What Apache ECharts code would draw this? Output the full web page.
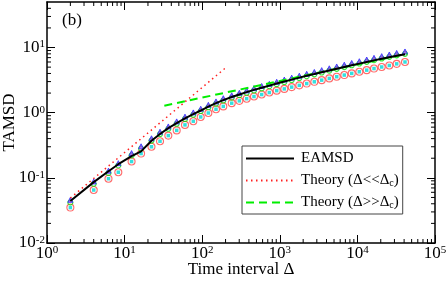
<!DOCTYPE html>
<html><head><meta charset="utf-8">
<script src="https://cdn.jsdelivr.net/npm/echarts@6/dist/echarts.min.js"></script>
<style>html,body{margin:0;padding:0;background:#fff}#c{width:447px;height:283px}</style>
</head><body><div id="c"></div>
<script>
// ---- data ----
const deltas = [2, 4, 6.2, 8.3, 12.3, 16.3, 22.2, 28.6, 36.6, 46.9, 60, 76.8, 95.7, 120, 150.6, 187, 240, 301, 374, 465,
  584, 733, 912, 1143, 1423, 1784, 2221, 2785, 3467, 4345, 5411, 6778, 8448, 10590, 13180, 16370, 20560, 25780, 32080, 41050];
const eamsd = [0.044, 0.086, 0.126, 0.162, 0.215, 0.255, 0.37, 0.47, 0.58, 0.69, 0.82, 0.95, 1.08, 1.24, 1.40, 1.56, 1.74, 1.90, 2.07, 2.24,
  2.42, 2.60, 2.80, 3.02, 3.22, 3.45, 3.68, 3.92, 4.17, 4.44, 4.72, 5.02, 5.33, 5.66, 6.0, 6.35, 6.72, 7.1, 7.48, 7.9];
const tamsdUpper = [0.046, 0.088, 0.129, 0.168, 0.240, 0.305, 0.405, 0.51, 0.615, 0.735, 0.87, 1.01, 1.15, 1.32, 1.49, 1.67, 1.85, 2.02, 2.2, 2.38,
  2.57, 2.77, 2.98, 3.22, 3.45, 3.7, 3.95, 4.22, 4.5, 4.8, 5.12, 5.45, 5.8, 6.17, 6.55, 6.95, 7.38, 7.82, 8.25, 8.7];
const tamsdMiddle = [0.042, 0.081, 0.119, 0.155, 0.221, 0.281, 0.373, 0.469, 0.566, 0.676, 0.80, 0.93, 1.06, 1.21, 1.37, 1.54, 1.70, 1.86, 2.02, 2.19,
  2.36, 2.55, 2.74, 2.96, 3.17, 3.40, 3.63, 3.88, 4.14, 4.42, 4.71, 5.01, 5.34, 5.68, 6.03, 6.39, 6.79, 7.19, 7.59, 8.0];
const tamsdLower = [0.035, 0.065, 0.097, 0.122, 0.178, 0.236, 0.30, 0.365, 0.445, 0.535, 0.65, 0.74, 0.86, 0.99, 1.13, 1.25, 1.40, 1.52, 1.64, 1.77,
  1.90, 2.04, 2.18, 2.32, 2.47, 2.63, 2.80, 2.98, 3.16, 3.36, 3.57, 3.78, 4.01, 4.25, 4.50, 4.76, 5.03, 5.31, 5.62, 6.0];
const shortTheoryX = [2, 205];
const shortTheoryY = [0.049, 5.0];
const longTheoryX = [32.5, 43000];
const longTheoryY = [1.28, 8.0];
const xMinorTicks = [2,3,4,5,6,7,8,9, 20,30,40,50,60,70,80,90, 200,300,400,500,600,700,800,900,
  2000,3000,4000,5000,6000,7000,8000,9000, 20000,30000,40000,50000,60000,70000,80000,90000];
const yMinorTicks = [0.02,0.03,0.04,0.05,0.06,0.07,0.08,0.09, 0.2,0.3,0.4,0.5,0.6,0.7,0.8,0.9,
  2,3,4,5,6,7,8,9, 20,30,40];
const legendNames = {
  'EAMSD': 'EAMSD',
  'short': 'Theory (\u0394<<\u0394{sub|c})',
  'long': 'Theory (\u0394>>\u0394{sub|c})'
};

const FONT = '"Liberation Serif", "Times New Roman", serif';
const pair = (xs, ys) => xs.map((x, i) => [x, ys[i]]);

function powLabel(v) {
  const e = Math.log10(v), r = Math.round(e);
  if (Math.abs(e - r) > 1e-6) return '';
  return '{a|10}{b|' + r + '}';
}
const richLabel = {
  a: {fontFamily: FONT, fontSize: 17, lineHeight: 17, color: '#000', padding: [7, 0, 7, 0]},
  b: {fontFamily: FONT, fontSize: 11, lineHeight: 11, color: '#000', verticalAlign: 'top'}
};

function minorXTick(params, api) {
  const cs = params.coordSys;
  const x = api.coord([api.value(0), 1])[0];
  const yb = cs.y + cs.height, yt = cs.y;
  return {type: 'group', children: [
    {type: 'line', shape: {x1: x, y1: yb, x2: x, y2: yb - 4}, style: {stroke: '#000', lineWidth: 1}},
    {type: 'line', shape: {x1: x, y1: yt, x2: x, y2: yt + 4}, style: {stroke: '#000', lineWidth: 1}}
  ]};
}
function minorYTick(params, api) {
  const cs = params.coordSys;
  const y = api.coord([10, api.value(1)])[1];
  const xl = cs.x, xr = cs.x + cs.width;
  return {type: 'group', children: [
    {type: 'line', shape: {x1: xl, y1: y, x2: xl + 4, y2: y}, style: {stroke: '#000', lineWidth: 1}},
    {type: 'line', shape: {x1: xr, y1: y, x2: xr - 4, y2: y}, style: {stroke: '#000', lineWidth: 1}}
  ]};
}

const axisCommon = {
  type: 'log', logBase: 10,
  axisLine: {show: true, onZero: false, lineStyle: {color: '#000', width: 1.5}},
  axisTick: {show: true, inside: true, length: 8, lineStyle: {color: '#000', width: 1}},
  splitLine: {show: false},
  minorTick: {show: false}
};

const chart = echarts.init(document.getElementById('c'), null, {renderer: 'canvas'});
chart.setOption({
  animation: false,
  backgroundColor: '#fff',
  grid: {left: 47, right: 12, top: 2, bottom: 40, containLabel: false, outerBoundsMode: 'none'},
  xAxis: [
    Object.assign({}, axisCommon, {
      position: 'bottom', min: 1, max: 100000,
      name: 'Time interval \u0394', nameLocation: 'middle', nameGap: 18, nameMoveOverlap: false,
      nameTextStyle: {fontFamily: FONT, fontSize: 17, color: '#000'},
      axisLabel: {show: true, margin: 2, formatter: powLabel, rich: richLabel, showMinLabel: true, showMaxLabel: true}
    }),
    Object.assign({}, axisCommon, {position: 'top', min: 1, max: 100000, axisLabel: {show: false}})
  ],
  yAxis: [
    Object.assign({}, axisCommon, {
      position: 'left', min: 0.01, max: 50,
      name: 'TAMSD', nameLocation: 'middle', nameGap: 29, nameRotate: 90, nameMoveOverlap: false,
      nameTextStyle: {fontFamily: FONT, fontSize: 17, color: '#000'},
      axisLabel: {show: true, margin: 2, formatter: powLabel, rich: richLabel, showMaxLabel: false}
    }),
    Object.assign({}, axisCommon, {position: 'right', min: 0.01, max: 50, axisLabel: {show: false}})
  ],
  graphic: [{
    type: 'text', left: 62, top: 12,
    style: {text: '(b)', fontFamily: FONT, fontSize: 17, fill: '#000'}
  }],
  legend: {
    data: ['EAMSD', 'short', 'long'],
    orient: 'vertical', left: 242, top: 146,
    backgroundColor: '#fff', borderColor: '#444', borderWidth: 1,
    padding: [5, 4, 4, 3],
    itemWidth: 48, itemHeight: 14, itemGap: 6,
    itemStyle: {opacity: 0},
    formatter: n => legendNames[n],
    textStyle: {
      fontFamily: FONT, fontSize: 15, color: '#000', padding: [0, 0, 0, 2],
      rich: {sub: {fontFamily: FONT, fontSize: 10, lineHeight: 10, color: '#000', verticalAlign: 'bottom', padding: [6, 0, 0, 0]}}
    }
  },
  series: [
    {type: 'custom', name: 'xminor', coordinateSystem: 'cartesian2d', renderItem: minorXTick,
     data: xMinorTicks.map(v => [v, 1]), silent: true, clip: false, z: 5},
    {type: 'custom', name: 'yminor', coordinateSystem: 'cartesian2d', renderItem: minorYTick,
     data: yMinorTicks.map(v => [10, v]), silent: true, clip: false, z: 5},
    {type: 'scatter', name: 'lowerRed', data: pair(deltas, tamsdLower), symbol: 'circle', symbolSize: 7,
     itemStyle: {color: 'rgba(0,0,0,0)', borderColor: '#ff4545', borderWidth: 1.1}, z: 2},
    {type: 'scatter', name: 'lowerCyan', data: pair(deltas, tamsdLower), symbol: 'rect', symbolSize: 3.5,
     itemStyle: {color: '#00d8d8'}, z: 2},
    {type: 'scatter', name: 'midGreen', data: pair(deltas, tamsdMiddle), symbol: 'circle', symbolSize: 5,
     itemStyle: {color: 'rgba(0,0,0,0)', borderColor: '#00e000', borderWidth: 1.1}, z: 2},
    {type: 'scatter', name: 'upperTri', data: pair(deltas, tamsdUpper), symbol: 'triangle', symbolSize: 5,
     itemStyle: {color: '#9a4ae8', borderColor: '#2a2aff', borderWidth: 1}, z: 2},
    {type: 'line', name: 'short', data: pair(shortTheoryX, shortTheoryY), symbol: 'none',
     itemStyle: {color: '#ff2020'},
     lineStyle: {color: '#ff2020', width: 1.5, type: [1.5, 3.5]}, z: 3},
    {type: 'line', name: 'long', data: pair(longTheoryX, longTheoryY), symbol: 'none',
     itemStyle: {color: '#00ee00'},
     lineStyle: {color: '#00ee00', width: 2, type: [8, 5]}, z: 3},
    {type: 'line', name: 'EAMSD', data: pair(deltas, eamsd), symbol: 'none',
     itemStyle: {color: '#000'},
     lineStyle: {color: '#000', width: 2}, z: 4}
  ]
});
</script>
</body></html>
